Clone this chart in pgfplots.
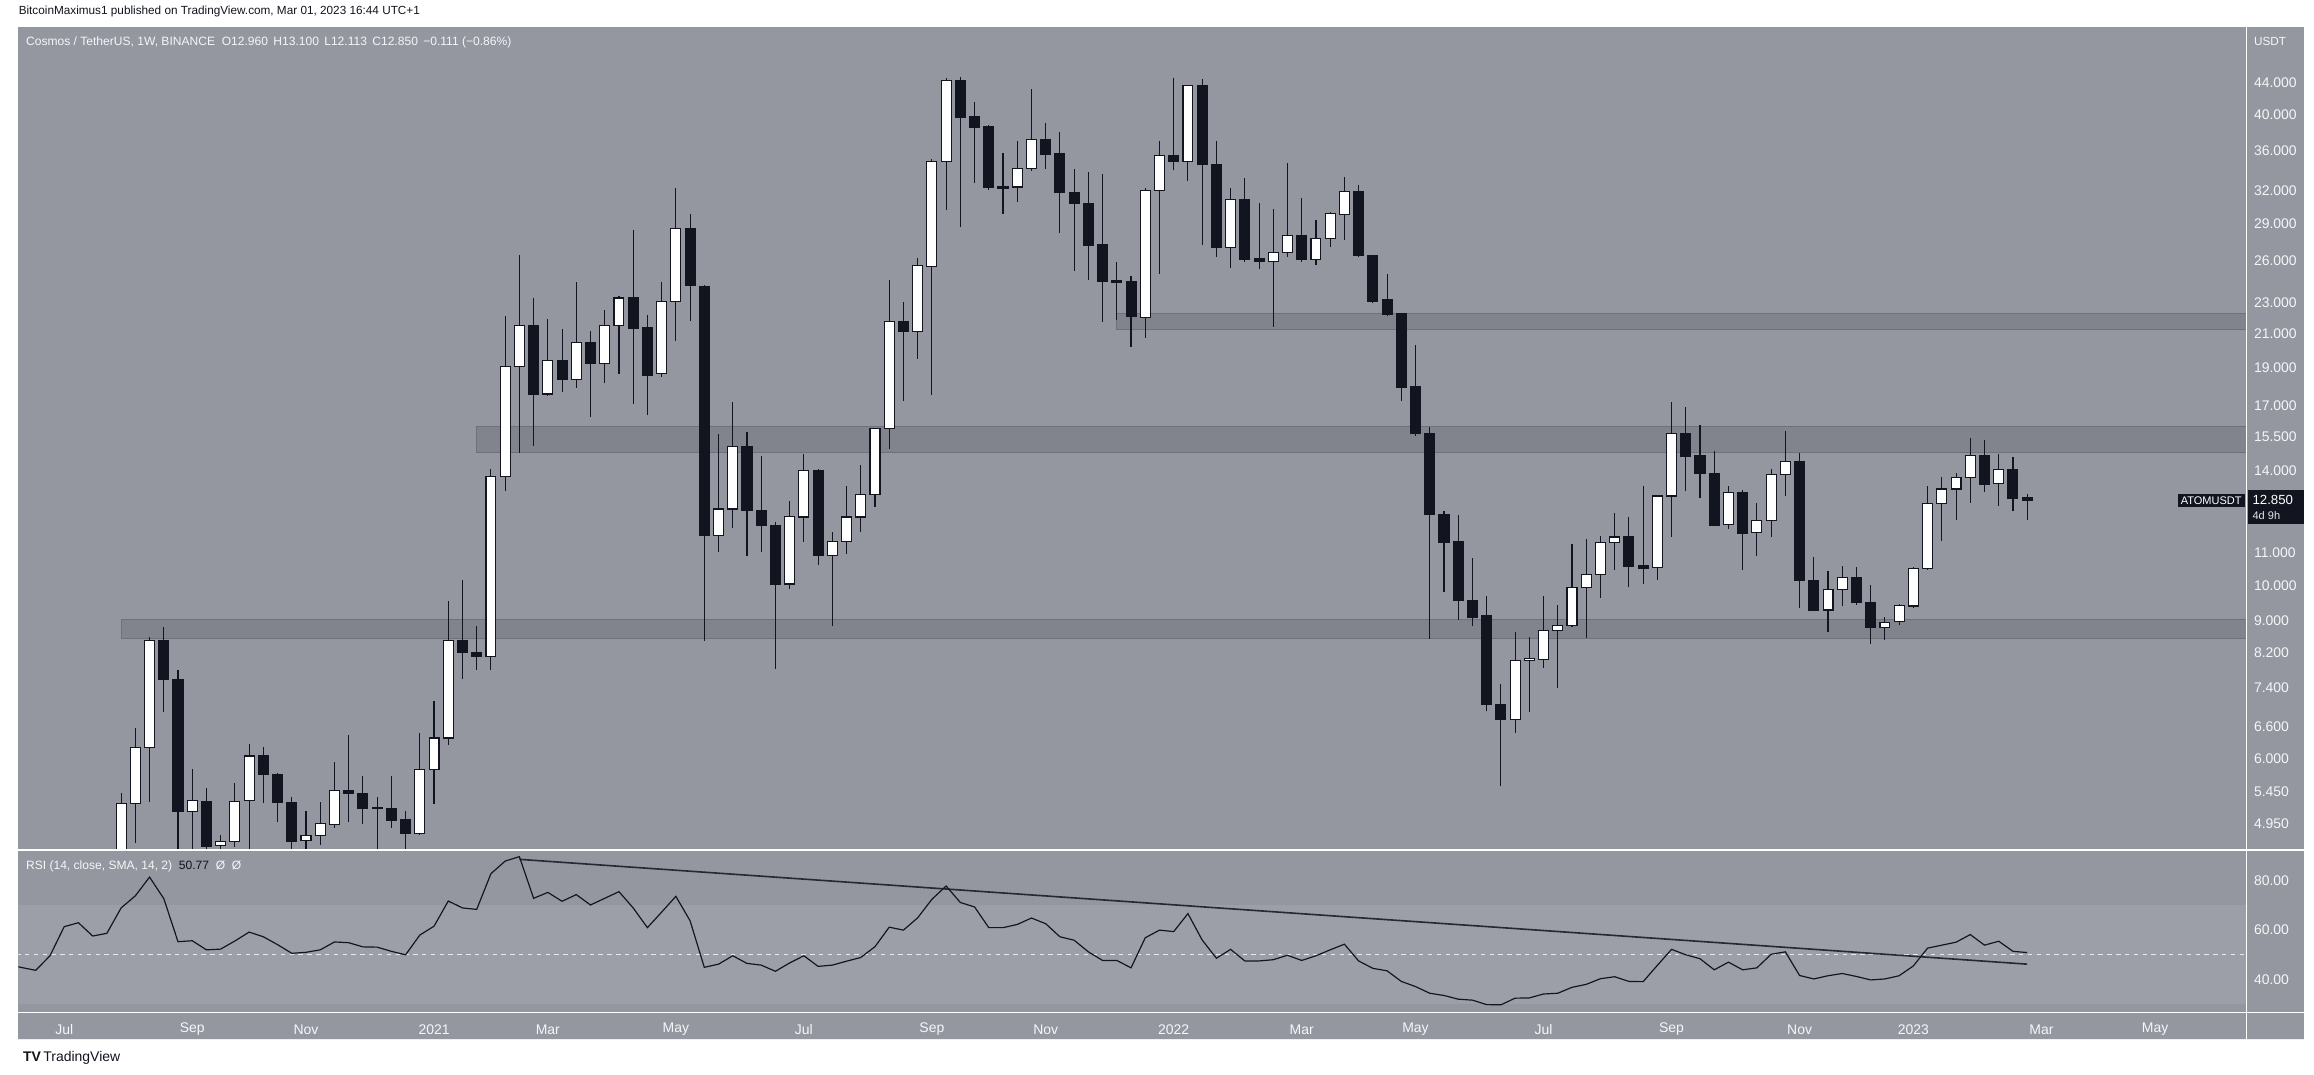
\documentclass[border=0pt]{standalone}
\usepackage{pgfplots}
\pgfplotsset{compat=1.18}
\usepackage{pgfplotstable}
\usepgfplotslibrary{statistics}
\usepackage{fontspec}
\setmainfont{Liberation Sans}
\definecolor{bg}{RGB}{148,151,160}
\definecolor{bandfill}{RGB}{129,132,141}
\definecolor{bandedge}{RGB}{110,113,122}
\definecolor{rsiband}{RGB}{156,159,167}
\definecolor{candle}{RGB}{18,21,31}
\definecolor{axtext}{RGB}{246,246,248}
\begin{document}
\pgfplotstableread{
k o h l c
0 4.00 5.42 3.90 5.26
1 5.26 6.57 4.68 6.21
2 6.21 8.59 5.28 8.50
3 8.50 8.84 6.88 7.58
4 7.58 7.79 4.30 5.14
5 5.14 5.82 4.40 5.30
6 5.29 5.51 4.45 4.64
7 4.65 4.80 4.45 4.70
8 4.70 5.58 4.63 5.29
9 5.30 6.26 4.55 6.05
10 6.05 6.22 5.27 5.73
11 5.73 5.76 4.98 5.27
12 5.27 5.36 4.50 4.71
13 4.72 5.14 4.55 4.79
14 4.79 5.29 4.66 4.96
15 4.94 5.95 4.90 5.46
16 5.46 6.44 4.98 5.41
17 5.41 5.70 4.95 5.19
18 5.20 5.36 4.50 5.18
19 5.18 5.71 4.90 5.01
20 5.01 5.14 4.50 4.82
21 4.82 6.48 4.79 5.81
22 5.81 7.12 5.25 6.38
23 6.38 9.56 6.25 8.50
24 8.50 10.17 7.60 8.20
25 8.20 8.86 7.80 8.11
26 8.11 14.09 7.80 13.79
27 13.79 22.13 13.22 19.04
28 19.04 26.47 14.77 21.47
29 21.47 23.33 15.09 17.57
30 17.57 21.94 17.47 19.38
31 19.38 21.30 17.67 18.36
32 18.36 24.45 17.87 20.43
33 20.43 21.12 16.43 19.24
34 19.24 22.52 18.15 21.47
35 21.47 23.47 18.63 23.31
36 23.31 28.48 17.06 21.33
37 21.35 22.20 16.52 18.58
38 18.65 24.45 18.45 23.04
39 23.04 32.21 20.53 28.62
40 28.62 29.85 21.77 24.19
41 24.14 24.20 8.50 11.59
42 11.59 15.61 11.02 12.52
43 12.52 17.15 11.85 15.06
44 15.06 15.73 10.90 12.47
45 12.48 14.64 11.02 11.93
46 11.93 12.05 7.82 10.04
47 10.04 12.83 9.89 12.25
48 12.23 14.74 11.37 14.01
49 14.01 14.08 10.62 10.91
50 10.91 11.71 8.88 11.37
51 11.37 13.38 10.97 12.23
52 12.23 14.27 11.71 13.05
53 13.05 15.91 12.59 15.86
54 15.86 24.61 14.94 21.77
55 21.77 23.04 17.20 21.12
56 21.12 26.21 19.45 25.65
57 25.57 35.14 17.50 34.80
58 34.80 44.58 30.22 44.19
59 44.19 44.72 28.75 39.68
60 39.77 41.54 32.71 38.54
61 38.62 38.75 32.05 32.32
62 32.40 35.68 29.86 32.22
63 32.32 37.06 30.92 34.09
64 34.09 43.19 33.90 37.18
65 37.18 39.08 34.09 35.60
66 35.68 37.96 28.25 31.77
67 31.77 34.05 25.26 30.75
68 30.82 33.76 24.61 27.25
69 27.31 33.54 21.75 24.46
70 24.51 25.90 21.82 24.40
71 24.43 24.86 20.15 22.08
72 22.02 32.21 20.70 32.00
73 32.00 37.00 25.02 35.47
74 35.47 44.59 33.95 34.80
75 34.80 43.71 32.90 43.56
76 43.56 44.44 27.25 34.50
77 34.58 37.06 26.32 27.06
78 27.06 32.21 25.48 31.16
79 31.16 33.16 25.94 26.11
80 26.15 30.83 25.37 25.97
81 25.97 30.28 21.38 26.68
82 26.68 34.65 26.32 28.03
83 28.03 31.28 25.94 26.11
84 26.11 29.31 25.72 27.81
85 27.81 30.00 27.12 29.91
86 29.78 33.27 27.69 31.89
87 31.89 32.50 26.30 26.44
88 26.44 26.47 23.00 23.08
89 23.19 25.02 22.10 22.22
90 22.27 22.32 17.22 17.93
91 17.97 20.27 15.54 15.66
92 15.66 15.92 8.54 12.33
93 12.33 12.44 9.81 11.36
94 11.37 12.30 9.04 9.56
95 9.56 10.83 8.88 9.11
96 9.15 9.68 6.90 7.04
97 7.05 7.48 5.53 6.74
98 6.74 8.71 6.47 8.02
99 8.01 8.59 6.88 8.06
100 8.04 9.68 7.85 8.75
101 8.75 9.45 7.40 8.88
102 8.88 11.31 8.85 9.93
103 9.93 11.47 8.57 10.32
104 10.32 11.58 9.64 11.33
105 11.33 12.38 10.46 11.53
106 11.53 12.24 9.95 10.58
107 10.60 13.41 10.04 10.52
108 10.53 13.04 10.16 13.01
109 13.01 17.15 11.52 15.64
110 15.64 16.90 13.19 14.61
111 14.67 16.03 12.92 13.90
112 13.91 14.86 11.90 11.94
113 11.95 13.41 11.80 13.16
114 13.16 13.24 10.46 11.66
115 11.67 12.75 10.90 12.09
116 12.09 14.09 11.52 13.87
117 13.87 15.75 13.00 14.41
118 14.41 14.77 9.36 10.14
119 10.14 10.86 9.28 9.30
120 9.30 10.42 8.72 9.87
121 9.89 10.60 9.42 10.23
122 10.23 10.54 9.44 9.50
123 9.50 10.00 8.42 8.83
124 8.83 9.10 8.52 8.97
125 8.98 9.46 8.91 9.42
126 9.41 10.57 9.36 10.50
127 10.50 13.40 10.45 12.74
128 12.74 13.76 11.39 13.28
129 13.28 13.93 12.11 13.75
130 13.74 15.43 12.73 14.67
131 14.67 15.34 13.15 13.46
132 13.50 14.73 12.65 14.08
133 14.08 14.60 12.43 12.92
134 12.96 13.10 12.113 12.85
}\candles
\pgfplotstableread{
k r
-7.3 45.1
-6 43.6
-5 49.5
-4 61.3
-3 62.9
-2 57.5
-1 58.6
0 68.9
1 73.8
2 81.4
3 72.7
4 55.2
5 55.6
6 51.9
7 52.2
8 55.5
9 59.1
10 57.2
11 54.0
12 50.5
13 50.9
14 51.9
15 55.1
16 54.8
17 53.1
18 53.0
19 51.3
20 49.9
21 57.9
22 61.5
23 71.7
24 68.9
25 68.3
26 82.8
27 87.9
28 89.7
29 72.8
30 75.2
31 71.6
32 74.3
33 70.1
34 72.8
35 75.5
36 68.9
37 60.9
38 67.2
39 73.6
40 63.7
41 44.8
42 46.1
43 49.5
44 46.4
45 45.7
46 43.2
47 46.6
48 49.5
49 45.2
50 45.7
51 47.3
52 48.8
53 53.2
54 61.1
55 59.9
56 64.9
57 72.4
58 77.8
59 71.1
60 69.3
61 60.9
62 60.9
63 62.2
64 64.8
65 62.5
66 57.2
67 55.8
68 51.1
69 47.6
70 47.6
71 44.6
72 56.8
73 59.9
74 59.3
75 66.6
76 55.9
77 48.5
78 52.1
79 47.4
80 47.4
81 47.9
82 49.7
83 47.6
84 49.5
85 51.9
86 54.2
87 47.4
88 44.4
89 43.4
90 39.1
91 37.0
92 34.3
93 33.4
94 31.9
95 31.5
96 29.7
97 29.6
98 32.3
99 32.4
100 34.0
101 34.3
102 36.7
103 37.9
104 40.2
105 41.0
106 39.1
107 39.0
108 45.6
109 52.1
110 49.9
111 48.3
112 43.8
113 46.9
114 43.8
115 44.6
116 50.1
117 51.1
118 41.5
119 40.1
120 41.4
121 42.3
122 41.1
123 39.7
124 40.1
125 41.4
126 45.4
127 52.6
128 53.8
129 55.0
130 58.1
131 53.8
132 55.4
133 51.3
134 50.8
}\rsi
\pgfplotstablegetrowsof{\candles}
\pgfmathtruncatemacro{\nrows}{\pgfplotsretval-1}
\begin{tikzpicture}[x=1pt,y=1pt]
\path[use as bounding box] (0,0) rectangle (1568,731);
\fill[white] (0,0) rectangle (1568,731);
\fill[bg] (7,24) rectangle (1561,712.5);
% main price panel
\begin{axis}[
  at={(7pt,153.5pt)}, anchor=south west, scale only axis,
  width=1515pt, height=559pt,
  xmin=-7.216, xmax=149.41, ymode=log, ymin=4.597, ymax=51.75,
  axis line style={draw=none}, tick style={draw=none},
  major tick length=0pt, minor tick length=0pt,
  xtick=\empty,
  ytick={4.95,5.45,6,6.6,7.4,8.2,9,10,11,14,15.5,17,19,21,23,26,29,32,36,40,44},
  yticklabels={4.950,5.450,6.000,6.600,7.400,8.200,9.000,10.000,11.000,14.000,15.500,17.000,19.000,21.000,23.000,26.000,29.000,32.000,36.000,40.000,44.000},
  yticklabel pos=right,
  yticklabel style={anchor=west, inner sep=0pt, xshift=5pt, text=axtext, font=\fontsize{9.5}{10}\selectfont},
  boxplot/draw direction=y,
  boxplot/box extend=0.7,
  boxplot/whisker extend=0,
  candleup/.style={draw=candle, fill=white, line width=0.75pt, solid},
  candledown/.style={draw=candle, fill=candle, line width=0.75pt, solid},
]
\addplot[fill=bandfill, draw=bandedge, line width=0.7pt] coordinates {(0,8.55) (150,8.55) (150,9.05) (0,9.05)} -- cycle;
\addplot[fill=bandfill, draw=bandedge, line width=0.7pt] coordinates {(25,14.78) (150,14.78) (150,15.95) (25,15.95)} -- cycle;
\addplot[fill=bandfill, draw=bandedge, line width=0.7pt] coordinates {(70,21.25) (150,21.25) (150,22.25) (70,22.25)} -- cycle;
\pgfplotsinvokeforeach{0,...,\nrows}{
  \pgfplotstablegetelem{#1}{k}\of\candles\edef\cK{\pgfplotsretval}
  \pgfplotstablegetelem{#1}{o}\of\candles\edef\cO{\pgfplotsretval}
  \pgfplotstablegetelem{#1}{h}\of\candles\edef\cH{\pgfplotsretval}
  \pgfplotstablegetelem{#1}{l}\of\candles\edef\cL{\pgfplotsretval}
  \pgfplotstablegetelem{#1}{c}\of\candles\edef\cC{\pgfplotsretval}
  \ifdim\cC pt<\cO pt
    \def\cS{candledown}\edef\cLo{\cC}\edef\cHi{\cO}
  \else
    \def\cS{candleup}\edef\cLo{\cO}\edef\cHi{\cC}
  \fi
  \edef\temp{\noexpand\addplot[\cS, boxplot prepared={draw position=\cK, lower whisker=\cL, lower quartile=\cLo, median=\cLo, upper quartile=\cHi, upper whisker=\cH}] coordinates {};}
  \temp
}
\end{axis}
% RSI panel
\begin{axis}[
  at={(7pt,43pt)}, anchor=south west, scale only axis,
  width=1515pt, height=109.5pt,
  xmin=-7.216, xmax=149.41, ymin=26.8, ymax=92.1,
  axis line style={draw=none}, tick style={draw=none},
  major tick length=0pt, minor tick length=0pt,
  ytick={40,60,80}, yticklabels={40.00,60.00,80.00},
  yticklabel pos=right,
  yticklabel style={anchor=west, inner sep=0pt, xshift=5pt, text=axtext, font=\fontsize{9.5}{10}\selectfont},
  xtick={-4,5,13,22,30,39,48,57,65,74,83,91,100,109,118,126,135,143},
  xticklabels={Jul,Sep,Nov,2021,Mar,May,Jul,Sep,Nov,2022,Mar,May,Jul,Sep,Nov,2023,Mar,May},
  xticklabel style={anchor=center, inner sep=0pt, yshift=-12pt, text=axtext, font=\fontsize{9.5}{10}\selectfont},
]
\addplot[fill=rsiband, draw=none] coordinates {(-8,30) (150,30) (150,70) (-8,70)} -- cycle;
\addplot[draw=white!80!bg, line width=0.6pt, dash pattern=on 3pt off 3pt] coordinates {(-8,50) (150,50)};
\addplot[draw=candle!85!bg, line width=1.1pt] coordinates {(28,88.6) (134,46.1)};
\addplot[draw=candle, line width=0.8pt, mark=none] table[x=k, y=r] {\rsi};
\end{axis}
% separators
\draw[white, line width=0.9pt] (7,153) -- (1561,153);
\draw[white, line width=0.9pt] (7,42.5) -- (1561,42.5);
\draw[white!85!bg, line width=0.9pt] (7,24) -- (1561,24);
\draw[white, line width=0.9pt] (1522,24) -- (1522,712.5);
% texts
\node[anchor=west, inner sep=0pt, text=candle, font=\fontsize{8}{9}\selectfont] at (7,723) {BitcoinMaximus1 published on TradingView.com, Mar 01, 2023 16:44 UTC+1};
\node[anchor=west, inner sep=0pt, text=axtext, font=\fontsize{8.2}{9}\selectfont] at (12,702) {Cosmos / TetherUS, 1W, BINANCE\ \ O12.960\ \,H13.100\ \,L12.113\ \,C12.850\ \,−0.111 (−0.86\%)};
\node[anchor=west, inner sep=0pt, text=axtext, font=\fontsize{8.2}{9}\selectfont] at (12,142) {RSI (14, close, SMA, 14, 2)\ \ \textcolor{candle}{50.77}\ \ Ø\ \ Ø};
\node[anchor=west, inner sep=0pt, text=axtext, font=\fontsize{8}{9}\selectfont] at (1527,703) {USDT};
\node[anchor=east, fill=candle, text=white, inner xsep=2pt, inner ysep=1.5pt, font=\fontsize{7.5}{8}\selectfont] at (1521,390.6) {ATOMUSDT};
\fill[candle] (1523,375) rectangle (1561,398);
\node[anchor=west, inner sep=0pt, text=white, font=\fontsize{9}{9}\selectfont] at (1526,391) {12.850};
\node[anchor=west, inner sep=0pt, text=white!75!bg, font=\fontsize{7.5}{8}\selectfont] at (1526,380.5) {4d 9h};
\node[anchor=west, inner sep=0pt, text=candle, font=\fontsize{9.5}{10}\selectfont] at (10,11.5) {\textbf{TV}\,TradingView};
\end{tikzpicture}
\end{document}
